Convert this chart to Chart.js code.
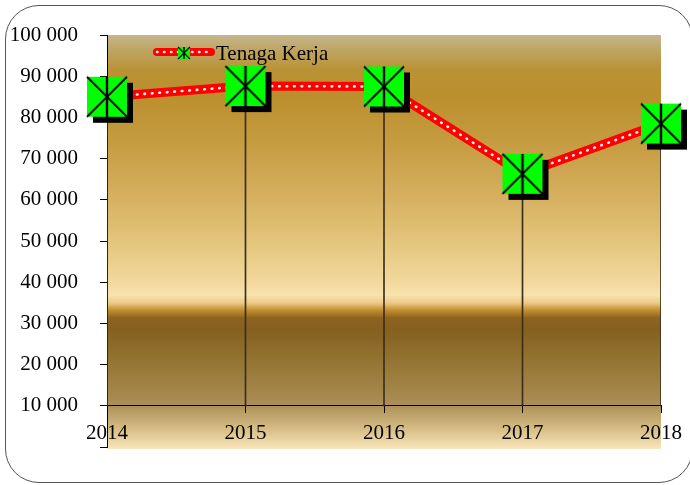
<!DOCTYPE html>
<html lang="id">
<head>
    <meta charset="UTF-8">
    <title>Tenaga Kerja</title>
    <script src="https://cdn.jsdelivr.net/npm/chart.js"></script>
    <style>
        html, body { margin: 0; padding: 0; background: #fff; }
        #wrap { position: relative; width: 690px; height: 485px; overflow: hidden; }
        #frame {
            position: absolute; left: 5px; top: 5px; width: 688px; height: 478px;
            border: 1px solid #555; border-radius: 34px; box-sizing: border-box;
        }
        #chart { position: absolute; left: 0; top: 0; }
    </style>
</head>
<body>
<div id="wrap">
    <div id="frame"></div>
    <canvas id="chart" width="690" height="485"></canvas>
</div>
<script>
    // data
    const years = ['2014', '2015', '2016', '2017', '2018'];
    const tenagaKerja = [85000, 87600, 87500, 66300, 78500];
    const seriesLabel = 'Tenaga Kerja';
    const yTicks = [0, 10000, 20000, 30000, 40000, 50000, 60000, 70000, 80000, 90000, 100000];
    const axisBase = 10000;

    const serif = "'Liberation Serif', 'Times New Roman', serif";

    // green square marker with X and bar, optional drop shadow
    function makeMarker(size, shadow) {
        const pad = shadow + 1;
        const c = document.createElement('canvas');
        c.width = c.height = size + pad * 2;
        const g = c.getContext('2d');
        const o = pad;
        if (shadow) {
            g.fillStyle = '#000';
            g.fillRect(o + shadow, o + shadow, size, size);
        }
        g.fillStyle = '#00ff00';
        g.fillRect(o, o, size, size);
        g.strokeStyle = '#000';
        g.lineWidth = size > 20 ? 1.8 : 1.2;
        g.beginPath();
        g.moveTo(o, o); g.lineTo(o + size, o + size);
        g.moveTo(o + size, o); g.lineTo(o, o + size);
        g.stroke();
        g.lineWidth = size > 20 ? 2.4 : 1.5;
        g.beginPath();
        g.moveTo(o + size / 2, o); g.lineTo(o + size / 2, o + size);
        g.stroke();
        return c;
    }
    const bigMarker = makeMarker(40, 6);
    const smallMarker = makeMarker(12, 0);

    // gold plot background
    const plotBackground = {
        id: 'plotBackground',
        beforeDraw(chart) {
            const { ctx, chartArea: a } = chart;
            const top = a.top, bottom = a.bottom + 2;
            const grad = ctx.createLinearGradient(0, top, 0, bottom);
            const stops = [
                [0, '#c6b68e'], [0.036, '#bea563'], [0.085, '#ba9236'], [0.145, '#bb8f2d'],
                [0.254, '#c59b40'], [0.375, '#d4ad5c'], [0.5, '#e3c57c'], [0.604, '#f4daa0'],
                [0.628, '#f8e3ad'], [0.647, '#eccb88'], [0.664, '#c4912f'], [0.684, '#8d6220'],
                [0.713, '#85601f'], [0.785, '#947432'], [0.882, '#a88b52'], [0.896, '#ad9158'],
                [0.954, '#d8bf88'], [1, '#f9e6bb']
            ];
            stops.forEach(s => grad.addColorStop(s[0], s[1]));
            ctx.save();
            ctx.fillStyle = grad;
            ctx.fillRect(a.left, top, a.right - a.left, bottom - top);
            ctx.restore();
        }
    };

    // legend inside plot: dotted red line with small marker
    const lineLegend = {
        id: 'lineLegend',
        afterDraw(chart) {
            const { ctx, chartArea: a } = chart;
            const x0 = a.left + 50, x1 = a.left + 104, y = a.top + 17;
            ctx.save();
            ctx.lineCap = 'round';
            ctx.strokeStyle = '#ff0000';
            ctx.lineWidth = 8;
            ctx.beginPath(); ctx.moveTo(x0, y); ctx.lineTo(x1, y); ctx.stroke();
            ctx.strokeStyle = 'rgba(255,255,255,0.95)';
            ctx.lineWidth = 2.5;
            ctx.setLineDash([0.5, 6.5]);
            ctx.beginPath(); ctx.moveTo(x0, y); ctx.lineTo(x1, y); ctx.stroke();
            ctx.setLineDash([]);
            const mx = (x0 + x1) / 2;
            ctx.drawImage(smallMarker, mx - smallMarker.width / 2, y + 1 - smallMarker.height / 2);
            ctx.fillStyle = '#000';
            ctx.font = '21px ' + serif;
            ctx.textBaseline = 'alphabetic';
            ctx.fillText(seriesLabel, x1 + 5, y + 8);
            ctx.restore();
        }
    };

    new Chart(document.getElementById('chart'), {
        type: 'line',
        data: {
            labels: years,
            datasets: [
                {
                    label: seriesLabel,
                    data: tenagaKerja,
                    showLine: false,
                    pointStyle: bigMarker,
                    pointRadius: 20,
                    pointHoverRadius: 20,
                    clip: false,
                    order: 0
                },
                {
                    label: 'dots',
                    data: tenagaKerja,
                    borderColor: 'rgba(255,255,255,0.95)',
                    borderWidth: 2.6,
                    borderDash: [0.6, 6.9],
                    borderCapStyle: 'round',
                    pointRadius: 0,
                    tension: 0,
                    clip: false,
                    order: 1
                },
                {
                    label: 'line',
                    data: tenagaKerja,
                    borderColor: '#ff0000',
                    borderWidth: 9,
                    pointRadius: 0,
                    tension: 0,
                    clip: false,
                    order: 2
                },
                {
                    type: 'bar',
                    label: 'drop',
                    data: tenagaKerja.map(v => [axisBase, v]),
                    backgroundColor: '#3b2f1c',
                    barThickness: 1,
                    order: 3
                }
            ]
        },
        options: {
            responsive: false,
            animation: false,
            events: [],
            layout: { padding: { top: 35, right: 29, bottom: 38, left: 0 } },
            plugins: { legend: { display: false }, tooltip: { enabled: false } },
            scales: {
                x: {
                    type: 'category',
                    position: { y: axisBase },
                    offset: false,
                    grid: { offset: false, drawOnChartArea: false, drawTicks: true, tickLength: 7, color: '#000' },
                    border: { display: true, color: '#000', width: 1 },
                    ticks: {
                        color: '#000', font: { family: serif, size: 21 },
                        padding: 8, maxRotation: 0, autoSkip: false
                    },
                    afterFit(scale) { scale.height = 0; }
                },
                y: {
                    min: 0, max: 100000,
                    afterBuildTicks(scale) { scale.ticks = yTicks.map(v => ({ value: v })); },
                    grid: { drawOnChartArea: false, drawTicks: true, tickLength: 7, color: '#000' },
                    border: { display: true, color: '#000', width: 1 },
                    ticks: {
                        color: '#000', font: { family: serif, size: 21 }, padding: 22,
                        callback: v => v === 0 ? '' : String(v).replace(/\B(?=(\d{3})+(?!\d))/g, ' ')
                    },
                    afterFit(scale) { scale.width = 107; }
                }
            }
        },
        plugins: [plotBackground, lineLegend]
    });
</script>
</body>
</html>
